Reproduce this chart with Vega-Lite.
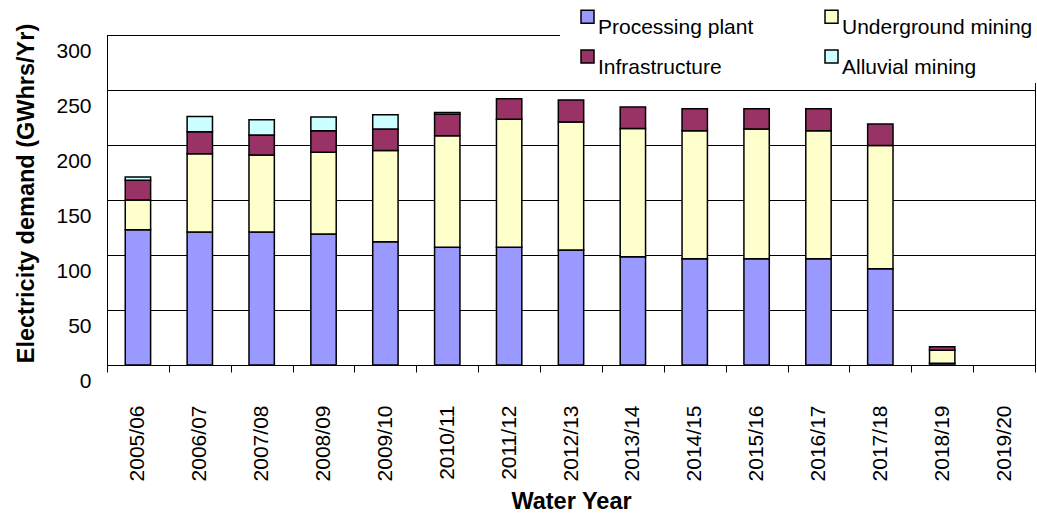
{
  "$schema": "https://vega.github.io/schema/vega-lite/v6.json",
  "autosize": {"type": "none"},
  "width": 928,
  "height": 330,
  "padding": {"left": 107, "top": 35, "right": 2, "bottom": 148},
  "background": "white",
  "config": {
    "view": {"stroke": "#000", "strokeWidth": 1},
    "font": "Liberation Sans"
  },
  "data": {
    "values": [
      {"year": "2005/06", "use": "Processing plant", "ord": 1, "value": 123},
      {"year": "2005/06", "use": "Underground mining", "ord": 2, "value": 27},
      {"year": "2005/06", "use": "Infrastructure", "ord": 3, "value": 18},
      {"year": "2005/06", "use": "Alluvial mining", "ord": 4, "value": 3},
      {"year": "2006/07", "use": "Processing plant", "ord": 1, "value": 121},
      {"year": "2006/07", "use": "Underground mining", "ord": 2, "value": 71},
      {"year": "2006/07", "use": "Infrastructure", "ord": 3, "value": 20},
      {"year": "2006/07", "use": "Alluvial mining", "ord": 4, "value": 14},
      {"year": "2007/08", "use": "Processing plant", "ord": 1, "value": 121},
      {"year": "2007/08", "use": "Underground mining", "ord": 2, "value": 70},
      {"year": "2007/08", "use": "Infrastructure", "ord": 3, "value": 18},
      {"year": "2007/08", "use": "Alluvial mining", "ord": 4, "value": 14},
      {"year": "2008/09", "use": "Processing plant", "ord": 1, "value": 119},
      {"year": "2008/09", "use": "Underground mining", "ord": 2, "value": 74.5},
      {"year": "2008/09", "use": "Infrastructure", "ord": 3, "value": 19.5},
      {"year": "2008/09", "use": "Alluvial mining", "ord": 4, "value": 12.5},
      {"year": "2009/10", "use": "Processing plant", "ord": 1, "value": 112},
      {"year": "2009/10", "use": "Underground mining", "ord": 2, "value": 83},
      {"year": "2009/10", "use": "Infrastructure", "ord": 3, "value": 19.5},
      {"year": "2009/10", "use": "Alluvial mining", "ord": 4, "value": 13},
      {"year": "2010/11", "use": "Processing plant", "ord": 1, "value": 107},
      {"year": "2010/11", "use": "Underground mining", "ord": 2, "value": 101.5},
      {"year": "2010/11", "use": "Infrastructure", "ord": 3, "value": 19.5},
      {"year": "2010/11", "use": "Alluvial mining", "ord": 4, "value": 1.5},
      {"year": "2011/12", "use": "Processing plant", "ord": 1, "value": 107},
      {"year": "2011/12", "use": "Underground mining", "ord": 2, "value": 116.5},
      {"year": "2011/12", "use": "Infrastructure", "ord": 3, "value": 18.5},
      {"year": "2012/13", "use": "Processing plant", "ord": 1, "value": 104.5},
      {"year": "2012/13", "use": "Underground mining", "ord": 2, "value": 116.5},
      {"year": "2012/13", "use": "Infrastructure", "ord": 3, "value": 20},
      {"year": "2013/14", "use": "Processing plant", "ord": 1, "value": 98.5},
      {"year": "2013/14", "use": "Underground mining", "ord": 2, "value": 116.5},
      {"year": "2013/14", "use": "Infrastructure", "ord": 3, "value": 19.5},
      {"year": "2014/15", "use": "Processing plant", "ord": 1, "value": 96.5},
      {"year": "2014/15", "use": "Underground mining", "ord": 2, "value": 116.5},
      {"year": "2014/15", "use": "Infrastructure", "ord": 3, "value": 20},
      {"year": "2015/16", "use": "Processing plant", "ord": 1, "value": 96.5},
      {"year": "2015/16", "use": "Underground mining", "ord": 2, "value": 118},
      {"year": "2015/16", "use": "Infrastructure", "ord": 3, "value": 18.5},
      {"year": "2016/17", "use": "Processing plant", "ord": 1, "value": 96.5},
      {"year": "2016/17", "use": "Underground mining", "ord": 2, "value": 116.5},
      {"year": "2016/17", "use": "Infrastructure", "ord": 3, "value": 20},
      {"year": "2017/18", "use": "Processing plant", "ord": 1, "value": 87.5},
      {"year": "2017/18", "use": "Underground mining", "ord": 2, "value": 112},
      {"year": "2017/18", "use": "Infrastructure", "ord": 3, "value": 19.5},
      {"year": "2018/19", "use": "Processing plant", "ord": 1, "value": 1.5},
      {"year": "2018/19", "use": "Underground mining", "ord": 2, "value": 12},
      {"year": "2018/19", "use": "Infrastructure", "ord": 3, "value": 3}
    ]
  },
  "mark": {"type": "bar", "stroke": "#000", "strokeWidth": 1.5, "width": {"band": 0.41}},
  "encoding": {
    "x": {
      "field": "year",
      "type": "nominal",
      "sort": null,
      "scale": {
        "domain": ["2005/06","2006/07","2007/08","2008/09","2009/10","2010/11","2011/12","2012/13","2013/14","2014/15","2015/16","2016/17","2017/18","2018/19","2019/20"],
        "paddingInner": 0,
        "paddingOuter": 0
      },
      "axis": {
        "title": "Water Year",
        "titleFont": "Liberation Sans",
        "titleFontSize": 23.5,
        "titleFontWeight": "bold",
        "titleColor": "#000",
        "titleBaseline": "alphabetic",
        "titleY": 143,
        "labelAngle": 270,
        "labelFont": "Liberation Sans",
        "labelFontSize": 21,
        "labelColor": "#000",
        "labelPadding": 33,
        "tickBand": "extent",
        "tickSize": 7,
        "tickColor": "#000",
        "domainColor": "#000",
        "grid": false,
        "labelOverlap": false
      }
    },
    "y": {
      "field": "value",
      "type": "quantitative",
      "stack": "zero",
      "scale": {"domain": [0, 300], "nice": false},
      "axis": {
        "title": "Electricity demand (GWhrs/Yr)",
        "titleFont": "Liberation Sans",
        "titleFontSize": 23.5,
        "titleFontWeight": "bold",
        "titleColor": "#000",
        "titleBaseline": "alphabetic",
        "titleX": -74,
        "titleY": 158,
        "values": [0, 50, 100, 150, 200, 250, 300],
        "labelFont": "Liberation Sans",
        "labelFontSize": 21,
        "labelColor": "#000",
        "labelPadding": 16,
        "labelOffset": 16,
        "labelOverlap": false,
        "tickSize": 0,
        "domainColor": "#000",
        "grid": true,
        "gridColor": "#000",
        "gridOpacity": 1,
        "gridWidth": 1
      }
    },
    "color": {
      "field": "use",
      "type": "nominal",
      "scale": {
        "domain": ["Processing plant", "Underground mining", "Infrastructure", "Alluvial mining"],
        "range": ["#9999FF", "#FFFFCC", "#993366", "#CCFFFF"]
      },
      "legend": {
        "title": null,
        "orient": "none",
        "legendX": 453,
        "legendY": -34,
        "columns": 2,
        "direction": "horizontal",
        "symbolType": "square",
        "symbolSize": 169,
        "symbolStrokeColor": "#000",
        "symbolStrokeWidth": 1.5,
        "symbolOpacity": 1,
        "symbolOffset": 12,
        "labelFont": "Liberation Sans",
        "labelFontSize": 21,
        "labelColor": "#000",
        "labelBaseline": "top",
        "labelOffset": 0,
        "labelLimit": 400,
        "columnPadding": 55,
        "rowPadding": 8,
        "padding": 5,
        "fillColor": "white",
        "strokeColor": null
      }
    },
    "order": {"field": "ord", "type": "quantitative"}
  }
}
